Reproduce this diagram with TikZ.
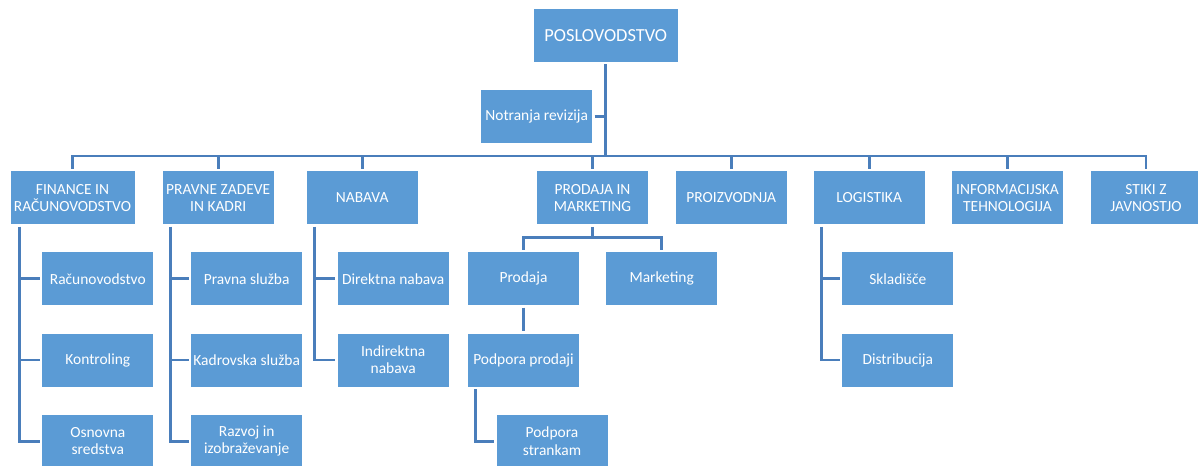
\documentclass[tikz,border=0pt]{standalone}
\usepackage{fontspec}
\setmainfont{Carlito}
\usepackage{tikz}
\definecolor{boxblue}{HTML}{5B9BD5}
\definecolor{lineblue}{HTML}{4A7EBB}

\begin{document}
\begin{tikzpicture}[x=0.75pt,y=-0.75pt]
		\useasboundingbox (0,0) rectangle (1198,466);
		\begin{scope}[every node/.style={rectangle,fill=boxblue,draw=white,line width=0.75pt,
					  text=white,align=center,inner sep=1pt,outer sep=1.5pt,
					  minimum width=84pt,minimum height=40.5pt,
					  font=\fontsize{11.6}{13}\selectfont}]
			% vrh
			\node[minimum width=108.75pt,font=\fontsize{13.8}{16}\selectfont] (P) at (605.8,35.3) {POSLOVODSTVO};
			\node (R) at (536.7,116.3) {Notranja revizija};
			% prvi nivo
			\node[minimum width=93.75pt] (F) at (72.5,198) {FINANCE IN\\RAČUNOVODSTVO};
			\node (K) at (218.2,198) {PRAVNE ZADEVE\\IN KADRI};
			\node (N) at (362.2,198) {NABAVA};
			\node (M) at (592.5,198) {PRODAJA IN\\MARKETING};
			\node (Z) at (731.2,198) {PROIZVODNJA};
			\node (L) at (869.2,198) {LOGISTIKA};
			\node (I) at (1007.5,198) {INFORMACIJSKA\\TEHNOLOGIJA};
			\node (S) at (1146,198) {STIKI Z\\JAVNOSTJO};
			% drugi nivo
			\node (F1) at (97.8,278.7) {Računovodstvo};
			\node (F2) at (97.8,360) {Kontroling};
			\node (F3) at (97.8,441.3) {Osnovna\\sredstva};
			\node (K1) at (246.7,278.7) {Pravna služba};
			\node (K2) at (246.7,360) {Kadrovska služba};
			\node (K3) at (246.7,441.3) {Razvoj in\\izobraževanje};
			\node (N1) at (393.2,278.7) {Direktna nabava};
			\node (N2) at (393.2,360) {Indirektna\\nabava};
			\node (M1) at (523.5,278.7) {Prodaja};
			\node (M2) at (661.7,278.7) {Marketing};
			\node (M3) at (523.5,360) {Podpora prodaji};
			\node (M4) at (552,441.3) {Podpora\\strankam};
			\node (L1) at (897.8,278.7) {Skladišče};
			\node (L2) at (897.8,360) {Distribucija};
		\end{scope}

		\begin{scope}[lineblue,line width=2pt]
			\coordinate (bar) at (605.8,156);
			\coordinate (mbar) at (592.5,237.3);
			\draw (P.south) -- (bar);
			\draw (R.east) -- (R.east -| P.south);
			\foreach \n in {F,K,N,M,Z,L,I,S}
				\draw (bar) -| (\n.north);
			% podrejene enote
			\draw ([xshift=8.8pt]F.south west) |- (F1.west);
			\draw ([xshift=8.8pt]F.south west) |- (F2.west);
			\draw ([xshift=8.8pt]F.south west) |- (F3.west);
			\draw ([xshift=7.8pt]K.south west) |- (K1.west);
			\draw ([xshift=7.8pt]K.south west) |- (K2.west);
			\draw ([xshift=7.8pt]K.south west) |- (K3.west);
			\draw ([xshift=7.5pt]N.south west) |- (N1.west);
			\draw ([xshift=7.5pt]N.south west) |- (N2.west);
			\draw ([xshift=7.5pt]L.south west) |- (L1.west);
			\draw ([xshift=7.5pt]L.south west) |- (L2.west);
			\draw (M.south) -- (mbar);
			\draw (mbar) -| (M1.north);
			\draw (mbar) -| (M2.north);
			\draw (M1.south) -- (M3.north);
			\draw ([xshift=7.5pt]M3.south west) |- (M4.west);
		\end{scope}
\end{tikzpicture}
\end{document}
